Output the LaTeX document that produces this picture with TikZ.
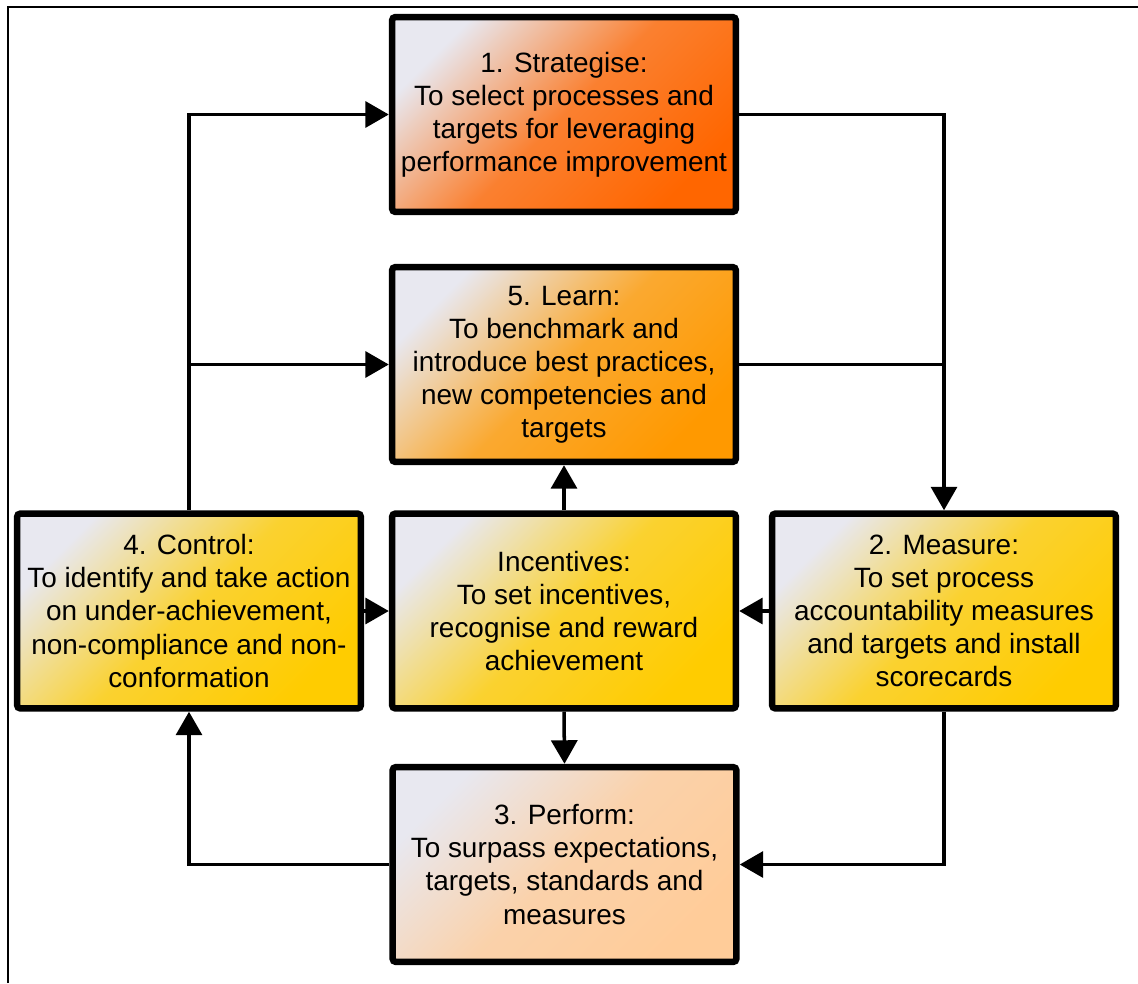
\documentclass[tikz,border=0pt]{standalone}
\usepackage{fontspec}
\setmainfont{Liberation Sans}
\usetikzlibrary{arrows.meta}

\definecolor{paleC}{HTML}{E8E8F0}
\definecolor{stratC}{HTML}{FF6600}
\definecolor{learnC}{HTML}{FF9900}
\definecolor{goldC}{HTML}{FFCC00}
\definecolor{peachC}{HTML}{FFCC99}

\begin{document}
\begin{tikzpicture}[x=0.02cm,y=-0.02cm,
  stage/.style={draw=black, line width=3.7pt, rounded corners=2pt,
    minimum width=6.88cm, minimum height=3.9cm, inner sep=0pt,
    align=center, text=black, font=\fontsize{15.9pt}{18.8pt}\selectfont},
  tint/.style={top color=paleC, bottom color=#1, middle color=#1!80!paleC,
    shading angle=45},
  link/.style={line width=2pt, -{Triangle[length=0.47cm,width=0.52cm]}},
  wire/.style={line width=2pt}]

\useasboundingbox (0,0) rectangle (1138,983);

% page frame
\draw[line width=0.04cm] (8,983) -- (8,7) -- (1138,7);

% stages
\node[stage, tint=stratC] (strat) at (564,114.5)
  {1. Strategise:\\To select processes and\\targets for leveraging\\performance improvement};
\node[stage, tint=learnC] (learn) at (564,364.5)
  {5. Learn:\\To benchmark and\\introduce best practices,\\new competencies and\\targets};
\node[stage, tint=goldC] (inc) at (564,611)
  {Incentives:\\To set incentives,\\recognise and reward\\achievement};
\node[stage, tint=goldC] (ctrl) at (189,611)
  {4. Control:\\To identify and take action\\on under-achievement,\\non-compliance and non-\\conformation};
\node[stage, tint=goldC] (meas) at (944,611)
  {2. Measure:\\To set process\\accountability measures\\and targets and install\\scorecards};
\node[stage, tint=peachC] (perf) at (564.5,864.5)
  {3. Perform:\\To surpass expectations,\\targets, standards and\\measures};

% connectors
\draw[link] (ctrl.north) |- (strat.west);
\draw[link] (ctrl.north |- learn.west) -- (learn.west);
\draw[link] (strat.east) -| (meas.north);
\draw[wire] (learn.east) -- (meas.north |- learn.east);
\draw[link] (meas.west) -- (inc.east);
\draw[link] (ctrl.east) -- (inc.west);
\draw[link] (inc.north) -- (learn.south);
\draw[link] (inc.south) -- (perf.north);
\draw[link] (meas.south) |- (perf.east);
\draw[link] (perf.west) -| (ctrl.south);
\end{tikzpicture}
\end{document}
